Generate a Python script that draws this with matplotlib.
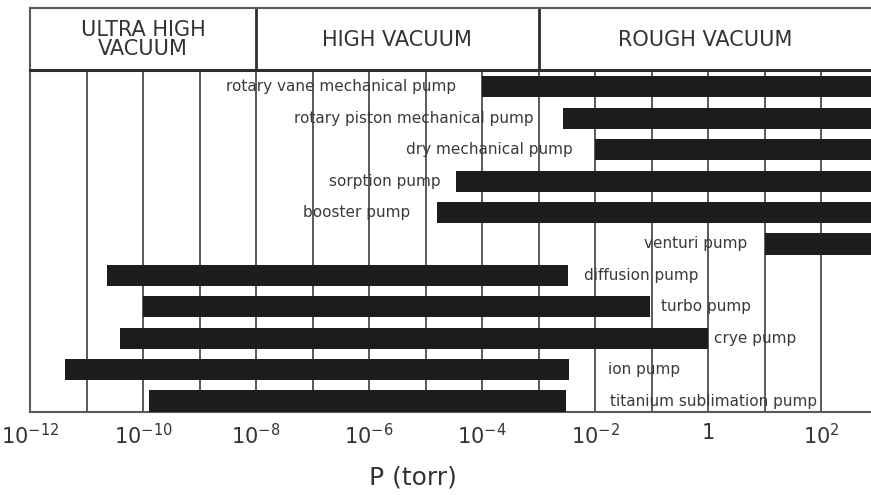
import numpy as np
import matplotlib
matplotlib.use('Agg')
import matplotlib.pyplot as plt


# Operating pressure ranges of common vacuum pumps (torr)
pumps = [
    'rotary vane mechanical pump',
    'rotary piston mechanical pump',
    'dry mechanical pump',
    'sorption pump',
    'booster pump',
    'venturi pump',
    'diffusion pump',
    'turbo pump',
    'crye pump',
    'ion pump',
    'titanium sublimation pump',
]
p_low = [1e-4, 2.7e-3, 1e-2, 3.5e-5, 1.6e-5, 10, 2.3e-11, 1e-10, 3.9e-11, 4.2e-12, 1.3e-10]
p_high = [760, 760, 760, 760, 760, 760, 3.3e-3, 9.3e-2, 1.0, 3.4e-3, 3.0e-3]

# Vacuum regimes shown in the header band
regimes = ['ULTRA HIGH\nVACUUM', 'HIGH VACUUM', 'ROUGH VACUUM']
regime_edges = [1e-12, 1e-8, 1e-3, 760]

tick_values = [1e-12, 1e-10, 1e-8, 1e-6, 1e-4, 1e-2, 1, 1e2]
tick_labels = ['$10^{-12}$', '$10^{-10}$', '$10^{-8}$', '$10^{-6}$',
               '$10^{-4}$', '$10^{-2}$', '1', '$10^{2}$']
minor_values = [1e-11, 1e-9, 1e-7, 1e-5, 1e-3, 1e-1, 1e1]

# label placement: which side of the bar and gap in pixels
label_side = ['left'] * 6 + ['right'] * 5
label_gap = [26, 29, 22, 16, 27, 17, 16, 11, 6, 39, 44]

plt.rcParams['font.family'] = ['DejaVu Sans']
text_color = '#333333'
grid_color = '#5a5a5a'
bar_color = '#1c1c1c'

W, H = 871, 495
fig = plt.figure(figsize=(W / 100, H / 100), dpi=100)
x0 = 30 / W
ax = fig.add_axes([x0, 1 - 412 / H, 1 - x0, (412 - 70) / H])
head = fig.add_axes([x0, 1 - 70 / H, 1 - x0, (70 - 8) / H], sharex=ax)

rows = np.arange(len(pumps))
widths = np.array(p_high) - np.array(p_low)

ax.set_xscale('log')
ax.set_xlim(regime_edges[0], regime_edges[-1])
ax.set_ylim(len(pumps) - 0.65, -0.54)

ax.set_xticks(tick_values)
ax.set_xticklabels(tick_labels)
ax.set_xticks(minor_values, minor=True)
ax.set_xticklabels([''] * len(minor_values), minor=True)
ax.tick_params(axis='x', which='both', length=0, pad=8, labelsize=15, labelcolor=text_color)
ax.set_yticks([])
ax.grid(axis='x', which='both', color=grid_color, linewidth=1.4, zorder=0)
ax.set_axisbelow(True)

ax.barh(rows, widths, left=p_low, height=0.67, color=bar_color, zorder=3)

for i, name in enumerate(pumps):
    gap = label_gap[i] * 0.72
    if label_side[i] == 'left':
        ax.annotate(name, xy=(p_low[i], i), xytext=(-gap, 0), textcoords='offset points',
                    ha='right', va='center', fontsize=11, color='#3a3a3a', zorder=4)
    else:
        ax.annotate(name, xy=(p_high[i], i), xytext=(gap, 0), textcoords='offset points',
                    ha='left', va='center', fontsize=11, color='#3a3a3a', zorder=4)

for side in ['top', 'right']:
    ax.spines[side].set_visible(False)
for side in ['left', 'bottom']:
    ax.spines[side].set_color(grid_color)
    ax.spines[side].set_linewidth(1.5)

ax.set_xlabel('P (torr)', fontsize=18, color=text_color)
ax.xaxis.set_label_coords(0.455, -0.155)

# header band with the vacuum regimes
head.set_ylim(0, 1)
head.tick_params(axis='both', which='both', length=0, labelbottom=False, labelleft=False)
head.spines['right'].set_visible(False)
head.spines['bottom'].set_color('#2e2e2e')
head.spines['bottom'].set_linewidth(2.2)
for side in ['top', 'left']:
    head.spines[side].set_color(grid_color)
    head.spines[side].set_linewidth(1.5)
for edge in regime_edges[1:-1]:
    head.axvline(edge, color='#2e2e2e', linewidth=2.0)
for i, name in enumerate(regimes):
    centre = np.sqrt(regime_edges[i] * regime_edges[i + 1])
    head.text(centre, 0.49, name, ha='center', va='center', fontsize=15,
              color=text_color, linespacing=0.95)

fig.savefig('out.png', dpi=100)
